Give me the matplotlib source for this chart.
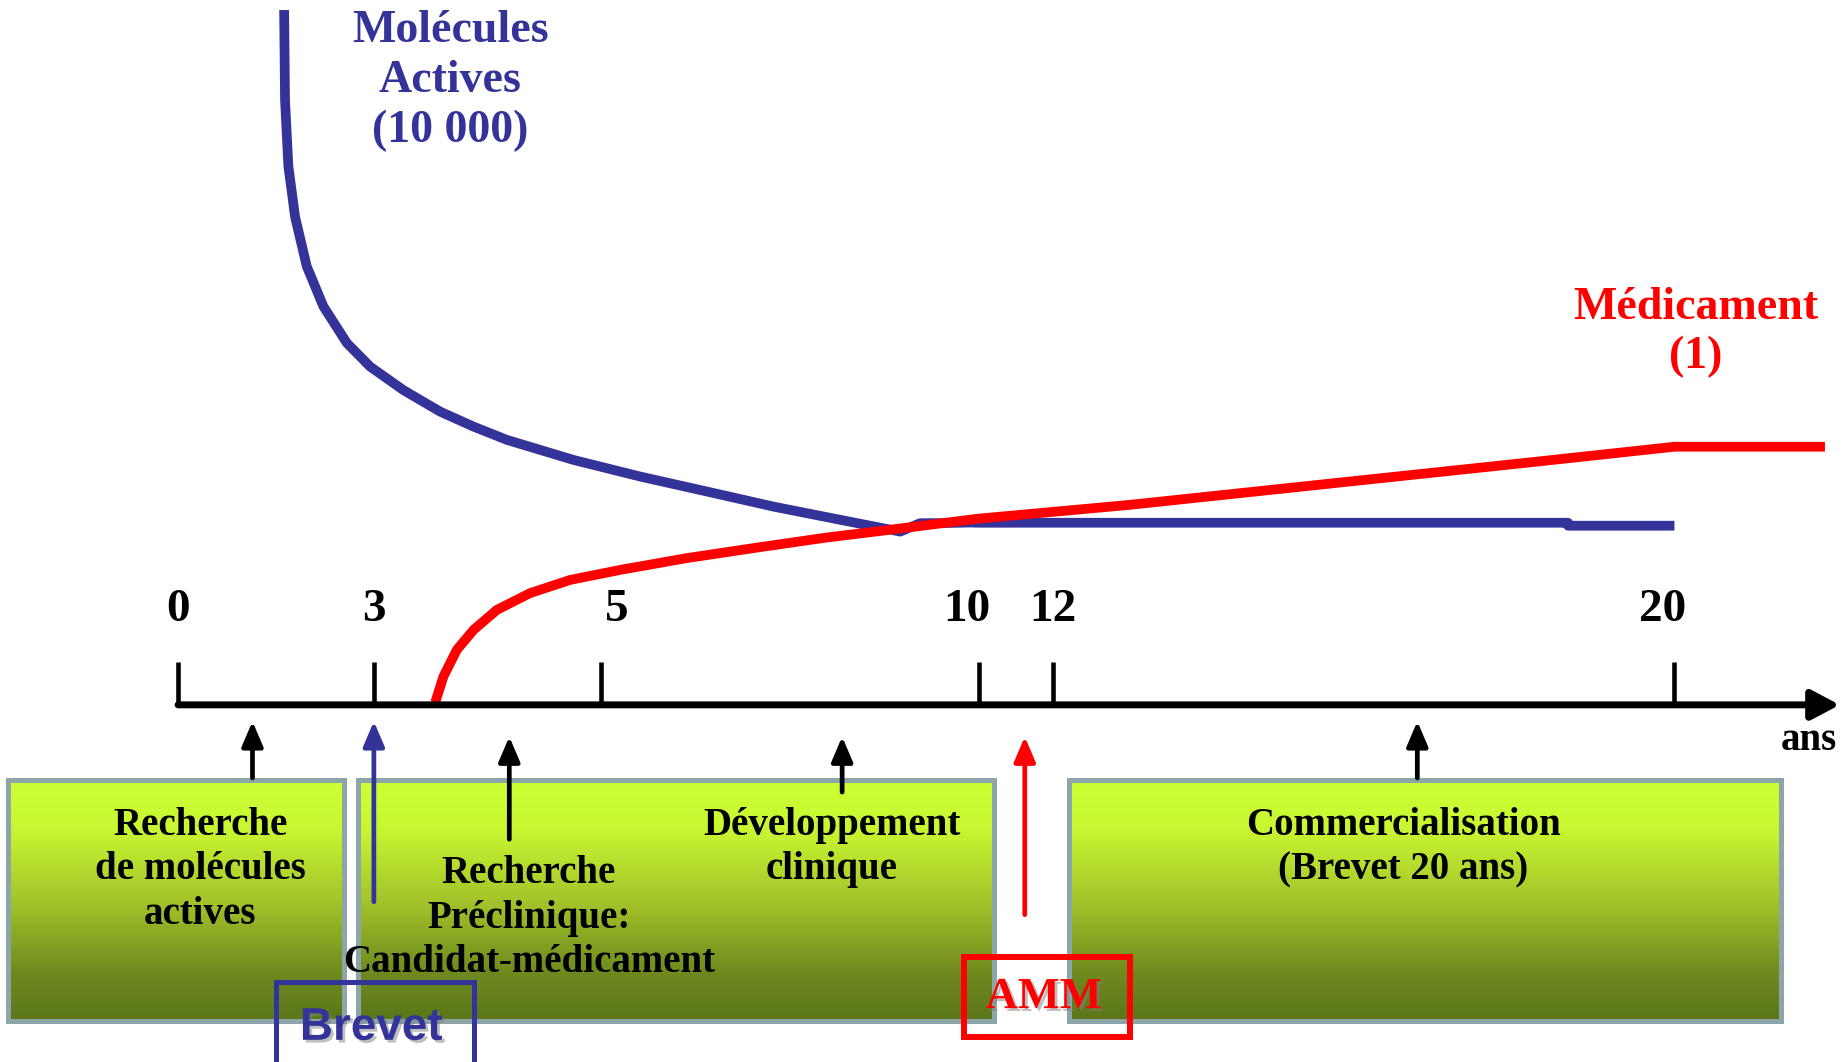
import numpy as np
import matplotlib
matplotlib.use("Agg")
import matplotlib.pyplot as plt
import matplotlib.patheffects as pe
from matplotlib.colors import LinearSegmentedColormap
from matplotlib.patches import Rectangle

# Timeline ticks (years) - the slide is not drawn to scale, so the
# years are spread over the width with a piecewise-linear scale
tick_years = [0, 3, 5, 10, 12, 20]
tick_labels = ["0", "3", "5", "10", "12", "20"]
label_nudge = [0, 0, 11, -8.5, 0, -8.5]  # points, labels sit a bit off their tick
knot_years = [-2.73, 0, 3, 5, 10, 12, 20, 22.25]
knot_frac = [0.0, 0.0963, 0.2022, 0.3253, 0.5293, 0.5695, 0.9056, 1.0]

# Molécules actives : 10 000 au départ, décroissance
mol_years = [1.625, 1.639, 1.69, 1.793, 1.972, 2.227, 2.586, 2.942, 3.26,
             3.582, 3.875, 4.169, 4.754, 5.513, 6.397, 7.28, 8.164, 8.959,
             9.223, 9.51, 9.89, 10.0, 18.63, 18.63, 20.0]
mol_level = [58.95, 51.3, 45.7, 41.4, 37.2, 33.8, 30.7, 28.7, 26.7,
             24.88, 23.61, 22.48, 20.78, 19.37, 18.1, 16.82, 15.7, 14.7,
             15.41, 15.42, 15.47, 15.45, 15.45, 15.2, 15.2]

# Médicament : 1 à la fin
med_years = [3.539, 3.611, 3.729, 3.876, 4.081, 4.373, 4.725, 5.248, 6.131,
             7.016, 7.988, 8.694, 10.0, 12.99, 18.18, 20.0, 21.94]
med_level = [0.2, 2.4, 4.67, 6.36, 8.06, 9.48, 10.6, 11.45, 12.45,
             13.3, 14.2, 14.75, 15.8, 16.97, 20.6, 21.9, 21.9]

# Phases (boxes under the timeline)
phase_start = [-2.6, 2.75, 12.2]
phase_end = [2.55, 10.41, 21.37]
phase_texts = ["Recherche\nde molécules\nactives",
               "Recherche\nPréclinique:\nCandidat-médicament",
               "Développement\nclinique",
               "Commercialisation\n(Brevet 20 ans)"]
phase_text_x = [0.34, 4.36, 8.05, 16.51]
phase_text_y = [-14.0, -18.1, -12.1, -12.1]

# Arrows pointing to the timeline
arrow_x = [1.14, 4.19, 8.19, 16.69]
arrow_from = [-6.2, -11.4, -7.4, -6.2]
arrow_to = [-1.4, -2.7, -2.7, -1.4]

BLUE = "#333399"
RED = "#ff0000"
SERIF = ["Liberation Serif", "DejaVu Serif"]
SANS = ["Liberation Sans", "DejaVu Sans"]


def forward(x):
    return np.interp(x, knot_years, knot_frac)


def inverse(x):
    return np.interp(x, knot_frac, knot_years)


def up_arrow(ax, x, y0, y1, color):
    ax.annotate("", xy=(x, y1), xytext=(x, y0),
                arrowprops=dict(arrowstyle="-|>,head_length=0.75,head_width=0.32",
                                mutation_scale=20, lw=3.4, color=color,
                                shrinkA=0, shrinkB=0), zorder=5)


fig = plt.figure(figsize=(18.49, 10.62), dpi=100)
ax = fig.add_axes([0, 0, 1, 1])
ax.set_xscale("function", functions=(forward, inverse))
ax.set_xlim(knot_years[0], knot_years[-1])
ax.set_ylim(-30.3, 59.8)
ax.patch.set_visible(False)
for s in ax.spines.values():
    s.set_visible(False)
ax.spines["bottom"].set_position(("data", 0))
ax.set_yticks([])
ax.set_xticks(tick_years, [""] * len(tick_years))
ax.tick_params(axis="x", direction="in", length=31, width=3.3)
for yr, lab, dx in zip(tick_years, tick_labels, label_nudge):
    ax.annotate(lab, xy=(yr, 0), xytext=(dx, 68), textcoords="offset points",
                fontsize=34, fontweight="bold", family=SERIF,
                ha="center", va="center")

# gradient green boxes
green = LinearSegmentedColormap.from_list(
    "green", [(0, "#ccff33"), (0.2, "#c8f632"), (0.5, "#a3c42a"),
              (0.8, "#6e8a1e"), (1, "#5c7619")])
box_top, box_bottom = -6.4, -26.8
n = 60
edges = np.linspace(box_top, box_bottom, n + 1)
for x0, x1 in zip(phase_start, phase_end):
    for i in range(n):
        ax.fill_between([x0, x1], edges[i + 1], edges[i],
                        color=green(i / (n - 1)), lw=0, zorder=1)
    ax.add_patch(Rectangle((x0, box_bottom), x1 - x0, box_top - box_bottom,
                           fill=False, ec="#8ca5a8", lw=3.6, zorder=2))

# timeline
ax.annotate("", xy=(22.13, 0), xytext=(0, 0),
            arrowprops=dict(arrowstyle="-|>,head_length=0.85,head_width=0.45",
                            mutation_scale=20, lw=5.0, color="black",
                            shrinkA=0, shrinkB=0), zorder=4)
ax.text(21.73, -3.0, "ans", fontsize=28, fontweight="bold", family=SERIF,
        ha="center", va="center")

# curves
ax.plot(mol_years, mol_level, color=BLUE, lw=7, solid_capstyle="butt",
        solid_joinstyle="round", zorder=3)
ax.plot(med_years, med_level, color=RED, lw=7, solid_capstyle="butt",
        solid_joinstyle="round", zorder=3)
ax.text(3.67, 52.9, "Molécules\nActives\n(10 000)", color=BLUE, fontsize=33,
        fontweight="bold", family=SERIF, ha="center", va="center",
        linespacing=1.25)
ax.text(20.27, 31.6, "Médicament\n(1)", color=RED, fontsize=33,
        fontweight="bold", family=SERIF, ha="center", va="center",
        linespacing=1.2)

# arrows
for x, y0, y1 in zip(arrow_x, arrow_from, arrow_to):
    up_arrow(ax, x, y0, y1, "black")
up_arrow(ax, 3.0, -16.7, -1.4, BLUE)
up_arrow(ax, 11.24, -17.8, -2.7, RED)

# phase labels
for t, x, y in zip(phase_texts, phase_text_x, phase_text_y):
    ax.text(x, y, t, fontsize=28, fontweight="bold", family=SERIF,
            ha="center", va="center", linespacing=1.26, zorder=6)

# Brevet / AMM
shadow = [pe.withSimplePatchShadow(offset=(2, -2), shadow_rgbFace="gray", alpha=0.5)]
ax.add_patch(Rectangle((1.50, -32), 3.88 - 1.50, -23.5 + 32, fill=False,
                       ec=BLUE, lw=3.6, zorder=7))
ax.text(2.96, -27.4, "Brevet", color=BLUE, fontsize=33, fontweight="bold",
        family=SANS, ha="center", va="center", zorder=8, path_effects=shadow)
ax.add_patch(Rectangle((9.80, -28.2), 12.99 - 9.80, 6.8, fill=False,
                       ec=RED, lw=4.3, zorder=7))
ax.text(11.75, -24.8, "AMM", color=RED, fontsize=32, fontweight="bold",
        family=SERIF, ha="center", va="center", zorder=8, path_effects=shadow)

fig.savefig("out.png", dpi=100)
